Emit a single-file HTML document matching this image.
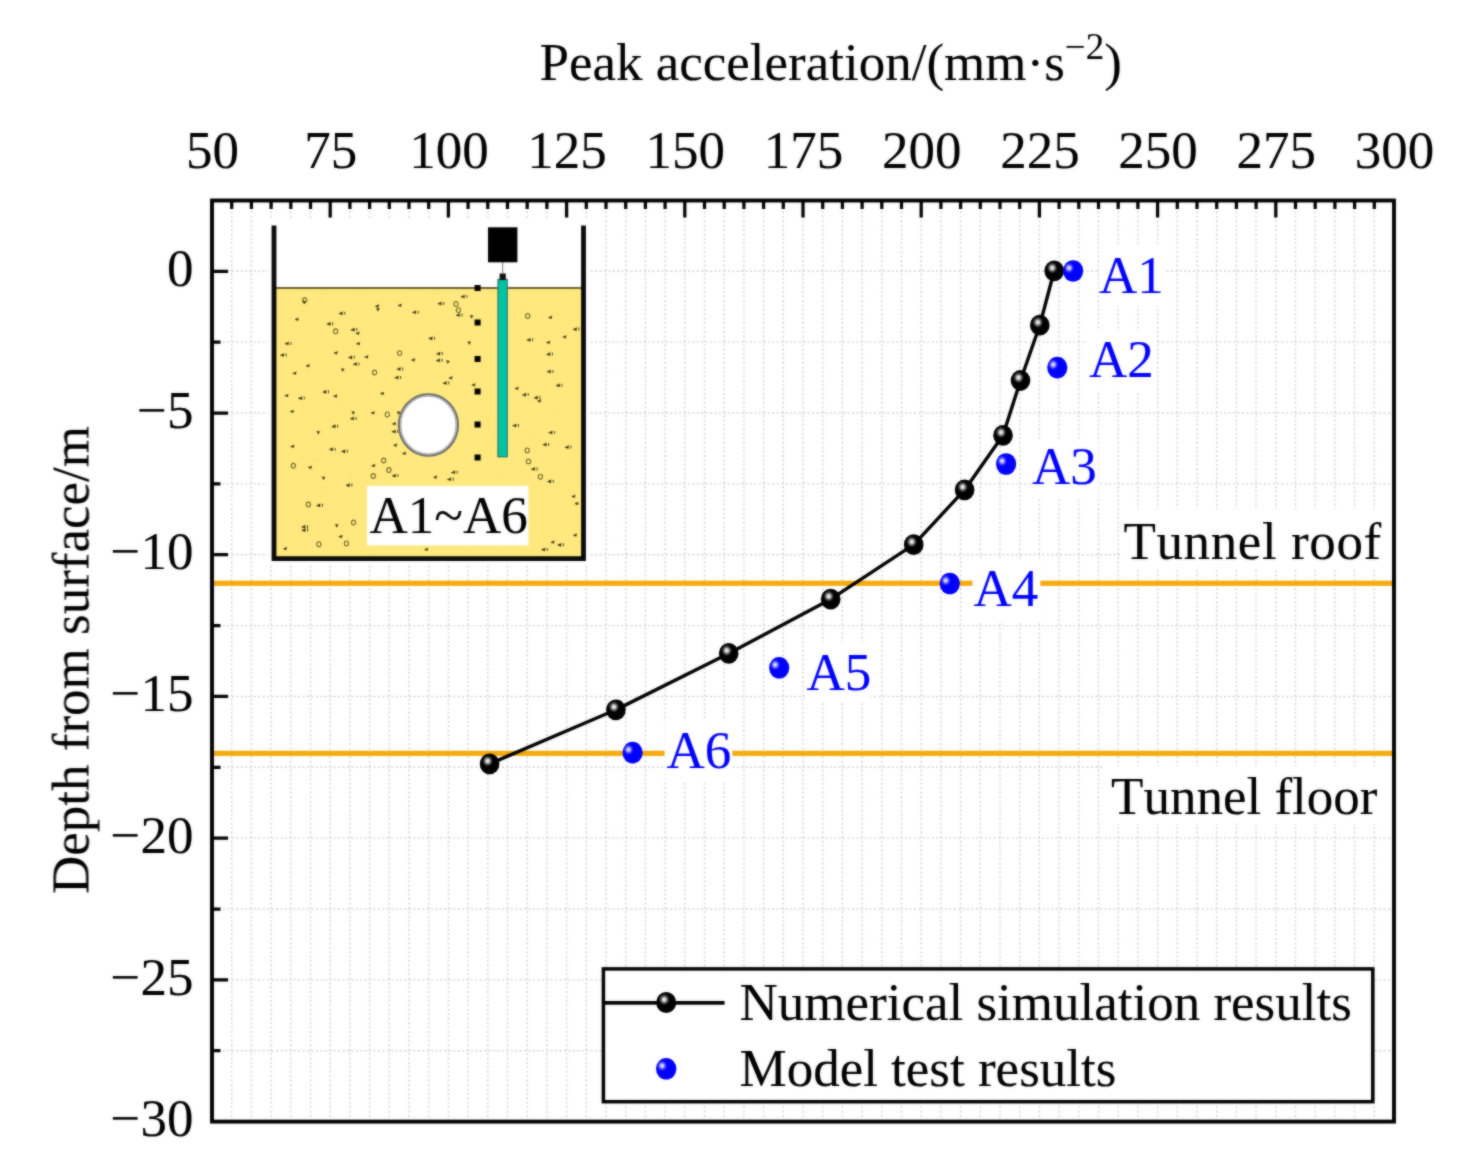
<!DOCTYPE html>
<html lang="en"><head><meta charset="utf-8"><title>Peak acceleration vs depth</title>
<style>html,body{margin:0;padding:0;background:#fff}body{width:1463px;height:1157px;overflow:hidden}svg{display:block}text{font-kerning:none;font-family:"Liberation Serif","Times New Roman",serif;font-size:53px;fill:#000;stroke:#000;stroke-width:0.12px}.b{fill:#0000ff;stroke:#0000ff}</style></head><body>
<svg width="1463" height="1157" viewBox="0 0 1463 1157">
<defs>
<radialGradient id="gk" cx="0.40" cy="0.36" r="0.6" fx="0.40" fy="0.36"><stop offset="0" stop-color="#fff"/><stop offset="0.14" stop-color="#d0d0d0"/><stop offset="0.3" stop-color="#4a4a4a"/><stop offset="0.45" stop-color="#000"/><stop offset="1" stop-color="#000"/></radialGradient>
<radialGradient id="gb" cx="0.30" cy="0.36" r="0.6" fx="0.30" fy="0.36"><stop offset="0" stop-color="#fff"/><stop offset="0.12" stop-color="#c0c0ff"/><stop offset="0.3" stop-color="#3030ff"/><stop offset="0.42" stop-color="#0000ff"/><stop offset="1" stop-color="#0000ff"/></radialGradient>
<filter id="soft" x="-2%" y="-2%" width="104%" height="104%" color-interpolation-filters="sRGB"><feGaussianBlur stdDeviation="0.9" result="b"/><feComposite in="SourceGraphic" in2="b" operator="arithmetic" k1="0" k2="0.45" k3="0.55" k4="0"/></filter>
</defs>
<rect width="1463" height="1157" fill="#fff"/>
<g filter="url(#soft)">
<path d="M231.70 202.5V1119.6M251.40 202.5V1119.6M271.10 202.5V1119.6M290.80 202.5V1119.6M310.50 202.5V1119.6M330.20 202.5V1119.6M349.90 202.5V1119.6M369.60 202.5V1119.6M389.30 202.5V1119.6M409.00 202.5V1119.6M428.70 202.5V1119.6M448.40 202.5V1119.6M468.10 202.5V1119.6M487.80 202.5V1119.6M507.50 202.5V1119.6M527.20 202.5V1119.6M546.90 202.5V1119.6M566.60 202.5V1119.6M586.30 202.5V1119.6M606.00 202.5V1119.6M625.70 202.5V1119.6M645.40 202.5V1119.6M665.10 202.5V1119.6M684.80 202.5V1119.6M704.50 202.5V1119.6M724.20 202.5V1119.6M743.90 202.5V1119.6M763.60 202.5V1119.6M783.30 202.5V1119.6M803.00 202.5V1119.6M822.70 202.5V1119.6M842.40 202.5V1119.6M862.10 202.5V1119.6M881.80 202.5V1119.6M901.50 202.5V1119.6M921.20 202.5V1119.6M940.90 202.5V1119.6M960.60 202.5V1119.6M980.30 202.5V1119.6M1000.00 202.5V1119.6M1019.70 202.5V1119.6M1039.40 202.5V1119.6M1059.10 202.5V1119.6M1078.80 202.5V1119.6M1098.50 202.5V1119.6M1118.20 202.5V1119.6M1137.90 202.5V1119.6M1157.60 202.5V1119.6M1177.30 202.5V1119.6M1197.00 202.5V1119.6M1216.70 202.5V1119.6M1236.40 202.5V1119.6M1256.10 202.5V1119.6M1275.80 202.5V1119.6M1295.50 202.5V1119.6M1315.20 202.5V1119.6M1334.90 202.5V1119.6M1354.60 202.5V1119.6M1374.30 202.5V1119.6M214.0 271.30H1392.0M214.0 342.16H1392.0M214.0 413.02H1392.0M214.0 483.88H1392.0M214.0 554.73H1392.0M214.0 625.59H1392.0M214.0 696.45H1392.0M214.0 767.31H1392.0M214.0 838.17H1392.0M214.0 909.02H1392.0M214.0 979.88H1392.0M214.0 1050.74H1392.0" fill="none" stroke="#d2d2d2" stroke-width="1.4" stroke-dasharray="2 2.43"/>
<rect x="212.0" y="580.68" width="1182.0" height="5.2" fill="#f6aa0c"/>
<rect x="212.0" y="750.74" width="1182.0" height="5.2" fill="#f6aa0c"/>
<rect x="1121.0" y="509.0" width="271.0" height="60.0" fill="#fff"/>
<rect x="1102.0" y="766.0" width="290.0" height="58.0" fill="#fff"/>
<rect x="1099.0" y="246.0" width="65.5" height="60.0" fill="#fff"/>
<rect x="1087.0" y="329.0" width="69.0" height="61.6" fill="#fff"/>
<rect x="1032.0" y="439.0" width="66.5" height="60.5" fill="#fff"/>
<rect x="972.5" y="558.5" width="67.8" height="62.5" fill="#fff"/>
<rect x="805.0" y="642.0" width="65.7" height="60.0" fill="#fff"/>
<rect x="664.6" y="721.0" width="67.7" height="61.0" fill="#fff"/>
<rect x="268.0" y="220.0" width="322.0" height="343.0" fill="#fff"/>
<rect x="274" y="288" width="309.5" height="269" fill="#ffe97f"/>
<path d="M557.1 412.5h0.9M333.8 424.6h0.9M306.4 369.8h0.9M305.4 502.9h0.9M487.4 301.0h0.9M574.6 543.7h0.9M325.6 293.9h0.9M437.6 305.7h0.9M335.4 353.6h0.9M287.1 412.0h0.9M428.9 464.2h0.9M416.1 363.2h0.9M579.3 551.9h0.9M531.7 476.2h0.9M373.2 350.4h0.9M365.3 308.5h0.9M533.7 391.7h0.9M567.3 512.8h0.9M278.2 345.2h0.9M552.9 413.6h0.9M574.1 394.5h0.9M300.1 455.5h0.9M513.1 361.0h0.9M304.3 377.5h0.9M569.2 489.4h0.9M313.6 354.8h0.9M308.5 305.8h0.9M518.7 336.7h0.9M335.6 482.5h0.9M317.6 459.3h0.9M313.2 400.7h0.9M342.3 361.0h0.9M571.2 501.3h0.9M341.6 393.7h0.9M536.0 458.8h0.9M308.3 550.2h0.9M342.4 357.9h0.9M367.5 309.3h0.9M305.2 443.3h0.9M351.4 448.1h0.9M390.3 409.2h0.9M567.7 417.2h0.9M333.2 330.5h0.9M552.3 505.1h0.9M353.3 339.9h0.9M337.4 539.9h0.9M544.4 448.7h0.9M405.3 317.3h0.9M289.7 543.2h0.9M350.0 475.3h0.9M355.6 506.6h0.9M458.1 367.2h0.9M331.0 479.5h0.9M298.8 350.1h0.9M463.5 363.7h0.9M555.0 343.6h0.9M283.0 360.8h0.9M412.6 305.9h0.9M331.2 387.0h0.9M450.8 324.6h0.9M574.1 462.8h0.9M486.7 443.7h0.9M320.4 299.2h0.9M283.4 529.4h0.9M284.4 457.3h0.9M374.3 552.8h0.9M300.7 433.6h0.9M500.6 475.1h0.9M384.3 470.2h0.9M550.1 519.1h0.9M538.8 440.6h0.9M466.7 390.6h0.9M454.0 450.1h0.9M302.2 458.2h0.9M578.0 521.4h0.9M303.3 487.3h0.9M287.0 448.1h0.9M423.2 350.5h0.9M488.9 420.8h0.9M355.3 293.0h0.9M368.9 468.4h0.9M339.2 334.6h0.9M551.5 463.6h0.9M376.7 465.1h0.9M337.9 403.3h0.9M543.8 391.1h0.9M454.1 373.2h0.9M319.1 420.6h0.9M361.6 334.5h0.9M414.1 362.4h0.9M342.7 398.9h0.9M467.0 419.9h0.9M574.6 409.0h0.9M300.6 298.3h0.9M541.6 300.9h0.9M492.0 440.1h0.9M283.8 325.7h0.9M415.4 296.5h0.9M528.6 352.4h0.9M320.5 302.3h0.9M468.0 407.4h0.9M468.2 462.3h0.9M421.5 337.0h0.9M281.3 414.2h0.9M360.3 380.9h0.9M488.6 426.9h0.9M551.7 312.9h0.9M559.6 480.0h0.9M317.2 409.3h0.9M391.8 439.6h0.9M543.6 499.5h0.9M563.2 412.0h0.9M471.8 478.7h0.9M342.4 526.7h0.9M574.1 547.0h0.9M536.4 381.7h0.9M303.0 406.0h0.9M425.2 297.5h0.9M522.4 306.8h0.9M519.6 335.5h0.9M320.4 329.1h0.9M434.0 480.3h0.9M531.7 471.3h0.9M563.6 419.5h0.9M564.6 312.6h0.9M344.9 428.5h0.9M365.6 481.7h0.9M470.9 427.5h0.9M532.8 437.3h0.9M372.1 390.3h0.9M533.3 526.8h0.9M340.9 513.8h0.9M570.5 427.9h0.9M451.0 342.9h0.9M460.8 297.3h0.9M570.8 425.7h0.9M486.7 307.3h0.9M567.0 532.9h0.9M359.3 414.4h0.9M316.3 404.1h0.9M421.9 373.4h0.9M335.8 452.5h0.9M557.4 324.0h0.9M513.3 296.0h0.9M336.6 349.8h0.9M485.5 374.7h0.9M385.3 453.0h0.9M309.7 482.2h0.9M315.1 424.3h0.9M353.7 342.0h0.9M391.5 398.7h0.9M437.9 332.0h0.9M339.7 456.0h0.9M470.8 429.3h0.9M535.1 450.9h0.9M536.7 351.2h0.9M550.6 373.1h0.9M343.9 552.6h0.9M546.0 325.2h0.9M350.3 481.1h0.9M356.4 315.5h0.9M529.3 400.9h0.9M516.6 323.1h0.9M399.6 470.2h0.9M283.4 342.8h0.9M570.5 320.4h0.9M429.8 470.3h0.9M335.1 308.6h0.9M310.1 299.8h0.9M449.8 328.5h0.9M333.7 343.6h0.9M531.7 550.4h0.9M557.9 315.0h0.9M296.7 540.2h0.9M376.7 412.8h0.9M459.5 293.5h0.9M332.7 409.4h0.9M336.9 333.4h0.9M432.8 294.1h0.9M547.7 500.8h0.9M468.1 396.4h0.9M574.8 501.7h0.9M356.0 529.7h0.9M524.0 396.7h0.9M548.8 521.4h0.9M381.2 413.3h0.9M281.2 383.5h0.9M470.9 454.1h0.9M348.1 538.4h0.9M580.0 458.9h0.9M574.0 296.0h0.9M355.5 395.6h0.9M293.2 341.4h0.9M391.5 315.9h0.9M353.8 528.2h0.9M570.1 439.4h0.9M578.5 457.8h0.9M522.5 310.0h0.9M291.6 534.6h0.9M326.3 414.1h0.9M329.1 420.3h0.9M462.6 305.4h0.9M563.5 400.6h0.9M388.4 365.2h0.9M363.6 478.5h0.9M367.4 293.7h0.9M352.0 301.2h0.9M325.3 488.5h0.9M576.6 538.4h0.9M300.2 528.2h0.9M571.9 354.1h0.9M573.6 504.8h0.9M460.3 320.3h0.9M466.5 409.8h0.9M339.5 303.7h0.9M437.5 322.7h0.9M411.7 465.7h0.9M415.6 358.9h0.9M453.8 400.3h0.9M512.9 429.6h0.9M579.3 540.5h0.9M312.4 524.8h0.9M514.9 454.4h0.9M386.5 361.4h0.9M456.7 456.5h0.9M353.2 547.7h0.9M554.5 521.1h0.9M289.9 306.0h0.9M359.8 401.8h0.9M466.3 316.9h0.9M441.6 309.1h0.9M304.1 467.9h0.9M390.7 415.9h0.9M341.6 380.4h0.9M300.5 321.5h0.9M522.4 454.0h0.9M406.2 357.9h0.9M522.6 387.0h0.9M376.3 434.3h0.9M407.2 387.1h0.9M307.3 520.2h0.9M301.7 311.8h0.9M512.2 310.0h0.9M342.4 464.1h0.9M302.7 369.9h0.9M496.9 472.5h0.9M363.4 327.6h0.9M386.1 480.9h0.9M388.7 320.9h0.9M492.2 439.7h0.9M555.4 537.2h0.9M553.8 405.2h0.9M520.5 370.2h0.9M373.9 395.1h0.9M560.3 525.3h0.9M353.0 385.1h0.9M388.4 385.6h0.9M397.5 391.9h0.9M336.9 438.3h0.9M518.7 432.2h0.9M530.6 438.0h0.9M331.3 489.6h0.9M544.0 364.0h0.9M284.7 425.6h0.9M569.9 461.3h0.9M520.9 306.8h0.9M303.4 311.5h0.9M303.6 456.8h0.9M321.5 486.1h0.9M344.6 491.3h0.9M397.1 378.8h0.9M570.4 466.8h0.9M495.7 476.2h0.9M554.3 398.0h0.9M527.5 465.4h0.9M535.8 502.0h0.9M567.3 458.4h0.9M436.2 476.8h0.9M520.3 400.9h0.9M405.0 328.4h0.9M501.9 550.6h0.9M391.4 334.1h0.9M339.7 401.8h0.9M295.9 371.1h0.9M312.7 460.4h0.9M512.3 337.2h0.9M296.8 410.7h0.9M289.0 318.6h0.9M333.7 347.2h0.9M349.1 478.6h0.9M457.6 348.9h0.9M333.9 363.9h0.9M330.1 489.2h0.9M372.1 434.2h0.9M524.8 416.1h0.9M356.7 523.4h0.9M554.1 380.0h0.9M423.7 348.1h0.9M293.0 539.2h0.9M520.0 391.2h0.9M360.9 550.4h0.9M281.3 414.3h0.9M325.5 331.3h0.9M375.2 358.2h0.9M540.5 425.7h0.9M470.4 551.2h0.9M358.5 430.6h0.9M323.5 492.6h0.9M278.4 506.0h0.9M533.5 506.2h0.9M302.9 361.0h0.9M566.6 444.3h0.9M536.9 369.8h0.9M516.4 399.7h0.9M554.9 313.9h0.9M527.6 344.8h0.9M325.6 508.8h0.9" stroke="#e9c95a" stroke-width="0.9" fill="none" stroke-opacity="0.75"/>
<path d="M372.5 372.5a2.1 2.4 0 1 0 4.2 0a2.1 2.4 0 1 0 -4.2 0M386.8 470.0a2.1 2.4 0 1 0 4.2 0a2.1 2.4 0 1 0 -4.2 0M526.4 461.4a2.1 2.4 0 1 0 4.2 0a2.1 2.4 0 1 0 -4.2 0M525.6 315.9a2.1 2.4 0 1 0 4.2 0a2.1 2.4 0 1 0 -4.2 0M381.6 460.5a2.1 2.4 0 1 0 4.2 0a2.1 2.4 0 1 0 -4.2 0M525.1 450.4a2.1 2.4 0 1 0 4.2 0a2.1 2.4 0 1 0 -4.2 0M316.8 544.2a2.1 2.4 0 1 0 4.2 0a2.1 2.4 0 1 0 -4.2 0M302.7 300.3a2.1 2.4 0 1 0 4.2 0a2.1 2.4 0 1 0 -4.2 0M291.2 465.8a2.1 2.4 0 1 0 4.2 0a2.1 2.4 0 1 0 -4.2 0M456.3 310.1a2.1 2.4 0 1 0 4.2 0a2.1 2.4 0 1 0 -4.2 0M397.5 353.1a2.1 2.4 0 1 0 4.2 0a2.1 2.4 0 1 0 -4.2 0M453.9 303.9a2.1 2.4 0 1 0 4.2 0a2.1 2.4 0 1 0 -4.2 0M385.2 414.4a2.1 2.4 0 1 0 4.2 0a2.1 2.4 0 1 0 -4.2 0M538.3 476.7a2.1 2.4 0 1 0 4.2 0a2.1 2.4 0 1 0 -4.2 0M371.2 476.0a2.1 2.4 0 1 0 4.2 0a2.1 2.4 0 1 0 -4.2 0M333.5 331.3a2.1 2.4 0 1 0 4.2 0a2.1 2.4 0 1 0 -4.2 0M306.3 504.5a2.1 2.4 0 1 0 4.2 0a2.1 2.4 0 1 0 -4.2 0M344.3 543.4a2.1 2.4 0 1 0 4.2 0a2.1 2.4 0 1 0 -4.2 0M351.5 522.5a2.1 2.4 0 1 0 4.2 0a2.1 2.4 0 1 0 -4.2 0" fill="none" stroke="#4e4512" stroke-opacity="0.8" stroke-width="1.1"/>
<path d="M370.8 413.0l3.6 -1.6l-0.5 2.8zM397.1 411.6l3 0.4l-1.6 2.6zM392.0 475.9l3.8 -1.8l-0.2 3.1zM283.1 548.8l3.6 -1.6l-0.5 2.8zM341.4 451.6l3.8 -1.8l-0.2 3.1zM391.7 431.8l3.8 -1.8l-0.2 3.1zM380.2 393.6l3.6 -1.6l-0.5 2.8zM356.2 343.8l3.6 -1.6l-0.5 2.8zM447.2 479.5l3.8 -1.8l-0.2 3.1zM308.0 467.5l3.6 -1.6l-0.5 2.8zM333.4 396.2l3.6 -1.6l-0.5 2.8zM456.0 315.3l3.8 -1.8l-0.2 3.1zM326.7 324.1l3.8 -1.8l-0.2 3.1zM301.6 530.4l3.8 -1.8l-0.2 3.1zM394.6 377.8l3.8 -1.8l-0.2 3.1zM284.6 395.8l3.6 -1.6l-0.5 2.8zM571.6 496.5l3.6 -1.6l-0.5 2.8zM460.8 296.8l3.8 -1.8l-0.2 3.1zM392.2 423.9l3.6 -1.6l-0.5 2.8zM442.8 383.3l3.8 -1.8l-0.2 3.1zM322.1 476.8l3 0.4l-1.6 2.6zM433.3 477.3l3.6 -1.6l-0.5 2.8zM338.6 536.7l3.6 -1.6l-0.5 2.8zM338.8 313.6l3.8 -1.8l-0.2 3.1zM451.2 472.5l3.8 -1.8l-0.2 3.1zM555.9 385.6l3.8 -1.8l-0.2 3.1zM548.5 432.7l3.8 -1.8l-0.2 3.1zM446.4 360.5l3 0.4l-1.6 2.6zM574.7 503.7l3.6 -1.6l-0.5 2.8zM316.4 505.6l3.8 -1.8l-0.2 3.1zM546.4 354.4l3.8 -1.8l-0.2 3.1zM526.7 340.1l3.8 -1.8l-0.2 3.1zM573.1 535.3l3.6 -1.6l-0.5 2.8zM371.4 465.8l3.6 -1.6l-0.5 2.8zM393.3 445.3l3.6 -1.6l-0.5 2.8zM284.9 343.7l3.8 -1.8l-0.2 3.1zM322.5 392.1l3.8 -1.8l-0.2 3.1zM331.6 426.6l3.8 -1.8l-0.2 3.1zM448.7 378.0l3.6 -1.6l-0.5 2.8zM564.9 447.4l3.8 -1.8l-0.2 3.1zM402.2 453.6l3.6 -1.6l-0.5 2.8zM424.3 549.6l3.6 -1.6l-0.5 2.8zM533.9 397.9l3.8 -1.8l-0.2 3.1zM375.2 306.2l3.6 -1.6l-0.5 2.8zM547.3 481.6l3.8 -1.8l-0.2 3.1zM397.8 305.5l3.6 -1.6l-0.5 2.8zM436.3 353.9l3.8 -1.8l-0.2 3.1zM550.7 542.3l3.6 -1.6l-0.5 2.8zM537.3 401.1l3.6 -1.6l-0.5 2.8zM345.9 485.4l3.8 -1.8l-0.2 3.1zM548.3 317.5l3.6 -1.6l-0.5 2.8zM316.8 431.2l3 0.4l-1.6 2.6zM280.2 355.2l3.8 -1.8l-0.2 3.1zM376.5 308.2l3 0.4l-1.6 2.6zM522.2 394.9l3.8 -1.8l-0.2 3.1zM546.9 371.7l3.8 -1.8l-0.2 3.1zM557.4 545.1l3.8 -1.8l-0.2 3.1zM341.3 368.5l3 0.4l-1.6 2.6zM546.3 342.6l3.6 -1.6l-0.5 2.8zM541.3 549.8l3.8 -1.8l-0.2 3.1zM467.8 341.6l3 0.4l-1.6 2.6zM294.9 319.5l3.6 -1.6l-0.5 2.8zM412.2 312.5l3.8 -1.8l-0.2 3.1zM333.8 353.0l3.6 -1.6l-0.5 2.8zM514.8 388.5l3.6 -1.6l-0.5 2.8zM542.7 444.8l3.8 -1.8l-0.2 3.1zM470.1 315.3l3 0.4l-1.6 2.6zM437.7 303.7l3.8 -1.8l-0.2 3.1zM364.5 357.0l3.6 -1.6l-0.5 2.8zM305.9 365.9l3.6 -1.6l-0.5 2.8zM353.0 364.3l3.8 -1.8l-0.2 3.1zM335.3 524.3l3 0.4l-1.6 2.6zM290.0 411.6l3.6 -1.6l-0.5 2.8zM428.5 338.6l3.8 -1.8l-0.2 3.1zM471.6 385.1l3.6 -1.6l-0.5 2.8zM512.5 425.8l3.8 -1.8l-0.2 3.1zM531.1 469.2l3.8 -1.8l-0.2 3.1zM562.6 337.0l3.6 -1.6l-0.5 2.8zM329.1 449.5l3.8 -1.8l-0.2 3.1zM350.1 418.7l3.8 -1.8l-0.2 3.1zM290.5 446.6l3.6 -1.6l-0.5 2.8zM411.2 360.1l3.6 -1.6l-0.5 2.8zM301.5 527.0l3.8 -1.8l-0.2 3.1zM350.7 329.9l3.8 -1.8l-0.2 3.1zM292.6 373.4l3.6 -1.6l-0.5 2.8zM436.1 360.6l3.8 -1.8l-0.2 3.1zM355.7 333.4l3.6 -1.6l-0.5 2.8zM298.2 398.4l3.8 -1.8l-0.2 3.1zM572.9 329.4l3.8 -1.8l-0.2 3.1zM396.7 369.2l3.8 -1.8l-0.2 3.1zM302.7 300.9l3 0.4l-1.6 2.6zM348.3 357.6l3.8 -1.8l-0.2 3.1zM351.8 411.5l3 0.4l-1.6 2.6z" fill="#2a2406" fill-opacity="0.9" stroke="#2a2406" stroke-width="0.5" stroke-opacity="0.7"/>
<path d="M398.0 474.1v3M347.4 449.8v3M397.7 430.0v3M453.2 477.7v3M462.0 313.5v3M332.7 322.3v3M307.6 528.6v3M400.6 376.0v3M466.8 295.0v3M448.8 381.5v3M344.8 311.8v3M457.2 470.7v3M561.9 383.8v3M554.5 430.9v3M322.4 503.8v3M552.4 352.6v3M532.7 338.3v3M290.9 341.9v3M328.5 390.3v3M337.6 424.8v3M570.9 445.6v3M539.9 396.1v3M553.3 479.8v3M442.3 352.1v3M351.9 483.6v3M286.2 353.4v3M528.2 393.1v3M552.9 369.9v3M563.4 543.3v3M547.3 548.0v3M418.2 310.7v3M548.7 443.0v3M443.7 301.9v3M359.0 362.5v3M434.5 336.8v3M518.5 424.0v3M537.1 467.4v3M335.1 447.7v3M356.1 416.9v3M307.5 525.2v3M356.7 328.1v3M442.1 358.8v3M304.2 396.6v3M578.9 327.6v3M402.7 367.4v3M354.3 355.8v3" fill="none" stroke="#3a320c" stroke-opacity="0.8" stroke-width="1.1"/>
<rect x="274" y="287.1" width="309.5" height="1.8" fill="#5a4f20"/>
<path d="M274 225.5V558.6H583.5V225.5" fill="none" stroke="#080808" stroke-width="4.8" stroke-linejoin="miter"/>
<ellipse cx="428.4" cy="425" rx="29.5" ry="30.7" fill="#fff" stroke="#6c6c6c" stroke-width="2.2"/><ellipse cx="428.4" cy="425" rx="27.8" ry="29" fill="none" stroke="#b4b4b4" stroke-width="1.6"/>
<rect x="474.6" y="285.0" width="6" height="6" fill="#000"/>
<rect x="474.6" y="319.5" width="6" height="6" fill="#000"/>
<rect x="474.6" y="356.0" width="6" height="6" fill="#000"/>
<rect x="474.6" y="388.5" width="6" height="6" fill="#000"/>
<rect x="474.6" y="421.5" width="6" height="6" fill="#000"/>
<rect x="474.6" y="454.5" width="6" height="6" fill="#000"/>
<rect x="498" y="279.5" width="9.2" height="177.2" fill="#00c4a4" stroke="#2c7c68" stroke-width="1.3"/>
<rect x="499.6" y="273.5" width="6.2" height="6.5" fill="#111"/>
<rect x="502.2" y="262" width="1" height="12" fill="#777"/>
<rect x="488" y="227.3" width="29.4" height="35" fill="#000"/>
<rect x="367.0" y="486.0" width="161.4" height="59.4" fill="#fff"/>
<text x="369.5" y="533">A1~A6</text>
<polyline points="1054.2,270.8 1039.8,325.2 1020.5,380.5 1003.0,435.3 964.6,489.9 913.7,544.7 830.7,599.2 728.7,653.4 615.9,709.8 489.6,763.9" fill="none" stroke="#000" stroke-width="3.4" stroke-linejoin="round"/>
<ellipse cx="1054.2" cy="270.8" rx="9.8" ry="10.4" fill="url(#gk)"/>
<ellipse cx="1039.8" cy="325.2" rx="9.8" ry="10.4" fill="url(#gk)"/>
<ellipse cx="1020.5" cy="380.5" rx="9.8" ry="10.4" fill="url(#gk)"/>
<ellipse cx="1003.0" cy="435.3" rx="9.8" ry="10.4" fill="url(#gk)"/>
<ellipse cx="964.6" cy="489.9" rx="9.8" ry="10.4" fill="url(#gk)"/>
<ellipse cx="913.7" cy="544.7" rx="9.8" ry="10.4" fill="url(#gk)"/>
<ellipse cx="830.7" cy="599.2" rx="9.8" ry="10.4" fill="url(#gk)"/>
<ellipse cx="728.7" cy="653.4" rx="9.8" ry="10.4" fill="url(#gk)"/>
<ellipse cx="615.9" cy="709.8" rx="9.8" ry="10.4" fill="url(#gk)"/>
<ellipse cx="489.6" cy="763.9" rx="9.8" ry="10.4" fill="url(#gk)"/>
<ellipse cx="1073.1" cy="271.0" rx="10.1" ry="10.8" fill="url(#gb)"/>
<ellipse cx="1057.3" cy="367.6" rx="10.1" ry="10.8" fill="url(#gb)"/>
<ellipse cx="1006.1" cy="464.0" rx="10.1" ry="10.8" fill="url(#gb)"/>
<ellipse cx="949.8" cy="583.5" rx="10.1" ry="10.8" fill="url(#gb)"/>
<ellipse cx="779.2" cy="667.8" rx="10.1" ry="10.8" fill="url(#gb)"/>
<ellipse cx="632.6" cy="752.6" rx="10.1" ry="10.8" fill="url(#gb)"/>
<text class="b" x="1099.0" y="293.4">A1</text>
<text class="b" x="1089.0" y="377.0">A2</text>
<text class="b" x="1032.0" y="484.3">A3</text>
<text class="b" x="973.5" y="606.0">A4</text>
<text class="b" x="806.5" y="689.5">A5</text>
<text class="b" x="666.5" y="768.4">A6</text>
<text x="1381.8" y="559" text-anchor="end" letter-spacing="0.6">Tunnel roof</text>
<text x="1377.5" y="814" text-anchor="end">Tunnel floor</text>
<rect x="603.4" y="968.9" width="769.4" height="132.8" fill="#fff" stroke="#000" stroke-width="3.5"/>
<rect x="604" y="1001" width="120.6" height="3.7" fill="#000"/>
<ellipse cx="666.2" cy="1002.5" rx="10" ry="10.5" fill="url(#gk)"/>
<ellipse cx="666.2" cy="1068.8" rx="10.2" ry="10.8" fill="url(#gb)"/>
<text x="739.5" y="1020.4">Numerical simulation results</text>
<text x="739.5" y="1086.4">Model test results</text>
<rect x="212.0" y="200.5" width="1182.0" height="921.1" fill="none" stroke="#000" stroke-width="3.9"/>
<path d="M231.70 202.0v7.0M251.40 202.0v7.0M271.10 202.0v7.0M290.80 202.0v7.0M310.50 202.0v7.0M330.20 202.0v15.5M349.90 202.0v7.0M369.60 202.0v7.0M389.30 202.0v7.0M409.00 202.0v7.0M428.70 202.0v7.0M448.40 202.0v15.5M468.10 202.0v7.0M487.80 202.0v7.0M507.50 202.0v7.0M527.20 202.0v7.0M546.90 202.0v7.0M566.60 202.0v15.5M586.30 202.0v7.0M606.00 202.0v7.0M625.70 202.0v7.0M645.40 202.0v7.0M665.10 202.0v7.0M684.80 202.0v15.5M704.50 202.0v7.0M724.20 202.0v7.0M743.90 202.0v7.0M763.60 202.0v7.0M783.30 202.0v7.0M803.00 202.0v15.5M822.70 202.0v7.0M842.40 202.0v7.0M862.10 202.0v7.0M881.80 202.0v7.0M901.50 202.0v7.0M921.20 202.0v15.5M940.90 202.0v7.0M960.60 202.0v7.0M980.30 202.0v7.0M1000.00 202.0v7.0M1019.70 202.0v7.0M1039.40 202.0v15.5M1059.10 202.0v7.0M1078.80 202.0v7.0M1098.50 202.0v7.0M1118.20 202.0v7.0M1137.90 202.0v7.0M1157.60 202.0v15.5M1177.30 202.0v7.0M1197.00 202.0v7.0M1216.70 202.0v7.0M1236.40 202.0v7.0M1256.10 202.0v7.0M1275.80 202.0v15.5M1295.50 202.0v7.0M1315.20 202.0v7.0M1334.90 202.0v7.0M1354.60 202.0v7.0M1374.30 202.0v7.0M213.5 271.30h14.5M213.5 342.16h7.0M213.5 413.02h14.5M213.5 483.88h7.0M213.5 554.73h14.5M213.5 625.59h7.0M213.5 696.45h14.5M213.5 767.31h7.0M213.5 838.17h14.5M213.5 909.02h7.0M213.5 979.88h14.5M213.5 1050.74h7.0" fill="none" stroke="#000" stroke-width="3.25"/>
<text x="212.5" y="168.3" text-anchor="middle">50</text>
<text x="330.7" y="168.3" text-anchor="middle">75</text>
<text x="448.9" y="168.3" text-anchor="middle">100</text>
<text x="567.1" y="168.3" text-anchor="middle">125</text>
<text x="685.3" y="168.3" text-anchor="middle">150</text>
<text x="803.5" y="168.3" text-anchor="middle">175</text>
<text x="921.7" y="168.3" text-anchor="middle">200</text>
<text x="1039.9" y="168.3" text-anchor="middle">225</text>
<text x="1158.1" y="168.3" text-anchor="middle">250</text>
<text x="1276.3" y="168.3" text-anchor="middle">275</text>
<text x="1394.5" y="168.3" text-anchor="middle">300</text>
<text x="193.5" y="286.0" text-anchor="end">0</text>
<text x="193.5" y="427.7" text-anchor="end">−5</text>
<text x="193.5" y="569.4" text-anchor="end">−10</text>
<text x="193.5" y="711.2" text-anchor="end">−15</text>
<text x="193.5" y="852.9" text-anchor="end">−20</text>
<text x="193.5" y="994.6" text-anchor="end">−25</text>
<text x="193.5" y="1136.3" text-anchor="end">−30</text>
<text x="539.5" y="80">Peak acceleration/(mm·s<tspan dy="-21.5" font-size="37">−2</tspan><tspan dy="21.5">)</tspan></text>
<text transform="translate(88.5,660) rotate(-90)" text-anchor="middle">Depth from surface/m</text>
</g>
</svg></body></html>
